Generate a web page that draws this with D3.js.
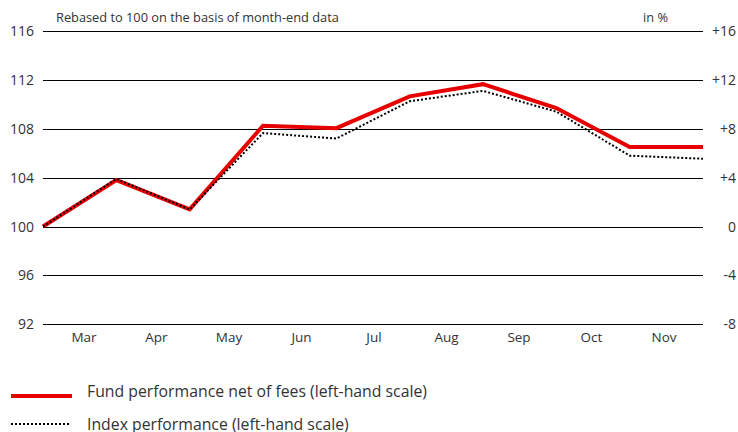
<!DOCTYPE html>
<html><head><meta charset="utf-8">
<script src="https://cdn.jsdelivr.net/npm/d3@7"></script>
<style>
body{margin:0;background:#fff;}
text{font-family:"Open Sans",sans-serif;fill:#333;}
</style></head>
<body><svg id="c" width="738" height="432"></svg>
<script>
const months = ["Mar","Apr","May","Jun","Jul","Aug","Sep","Oct","Nov"];
const points = [0,1,2,3,4,5,6,7,8,9];
const fund = [100, 103.8, 101.4, 108.25, 108.05, 110.65, 111.65, 109.7, 106.5, 106.5];
const index = [100, 103.9, 101.4, 107.65, 107.2, 110.25, 111.1, 109.4, 105.8, 105.55];
const leftTicks = [92, 96, 100, 104, 108, 112, 116];
const rightTickLabels = ["-8","-4","0","+4","+8","+12","+16"];
const seriesNames = ["Fund performance net of fees (left-hand scale)", "Index performance (left-hand scale)"];

const svg = d3.select("#c");
const x = d3.scaleLinear().domain([0, 9]).range([43, 703]);
const xm = d3.scalePoint().domain(months).range([84, 664]);
const y = d3.scaleLinear().domain([92, 116]).range([324.3, 31]);

svg.append("g").selectAll("line").data(leftTicks).join("line")
  .attr("x1", 43).attr("x2", 703)
  .attr("y1", d => Math.round(y(d)) + 0.5).attr("y2", d => Math.round(y(d)) + 0.5)
  .attr("stroke", "#000").attr("stroke-width", 1);

svg.append("g").selectAll("text").data(leftTicks).join("text")
  .attr("x", 34).attr("y", d => y(d) + 5)
  .attr("text-anchor", "end").attr("font-size", 14).text(d => d);

svg.append("g").selectAll("text").data(leftTicks).join("text")
  .attr("x", 736).attr("y", d => y(d) + 5)
  .attr("text-anchor", "end").attr("font-size", 14).text((d, i) => rightTickLabels[i]);

svg.append("g").selectAll("text").data(months).join("text")
  .attr("x", d => xm(d)).attr("y", 342)
  .attr("text-anchor", "middle").attr("font-size", 13.5).text(d => d);

svg.append("text").attr("x", 56).attr("y", 22).attr("font-size", 12.8).text("Rebased to 100 on the basis of month-end data");
svg.append("text").attr("x", 668).attr("y", 22).attr("text-anchor", "end").attr("font-size", 12.8).text("in %");

const line = d3.line().x((d, i) => x(points[i])).y(d => y(d));

svg.append("path").datum(fund).attr("d", line)
  .attr("fill", "none").attr("stroke", "#e60000").attr("stroke-width", 4).attr("stroke-linejoin", "miter");
svg.append("path").datum(index).attr("d", line)
  .attr("fill", "none").attr("stroke", "#000").attr("stroke-width", 2).attr("stroke-dasharray", "2,2");

svg.append("line").attr("x1", 11).attr("x2", 72).attr("y1", 396).attr("y2", 396)
  .attr("stroke", "#e60000").attr("stroke-width", 4);
svg.append("line").attr("x1", 11).attr("x2", 69).attr("y1", 424).attr("y2", 424)
  .attr("stroke", "#000").attr("stroke-width", 2).attr("stroke-dasharray", "2,2");
svg.append("text").attr("x", 87).attr("y", 397).attr("font-size", 15.8).text(seriesNames[0]);
svg.append("text").attr("x", 87).attr("y", 430).attr("font-size", 15.8).text(seriesNames[1]);
</script></body></html>
